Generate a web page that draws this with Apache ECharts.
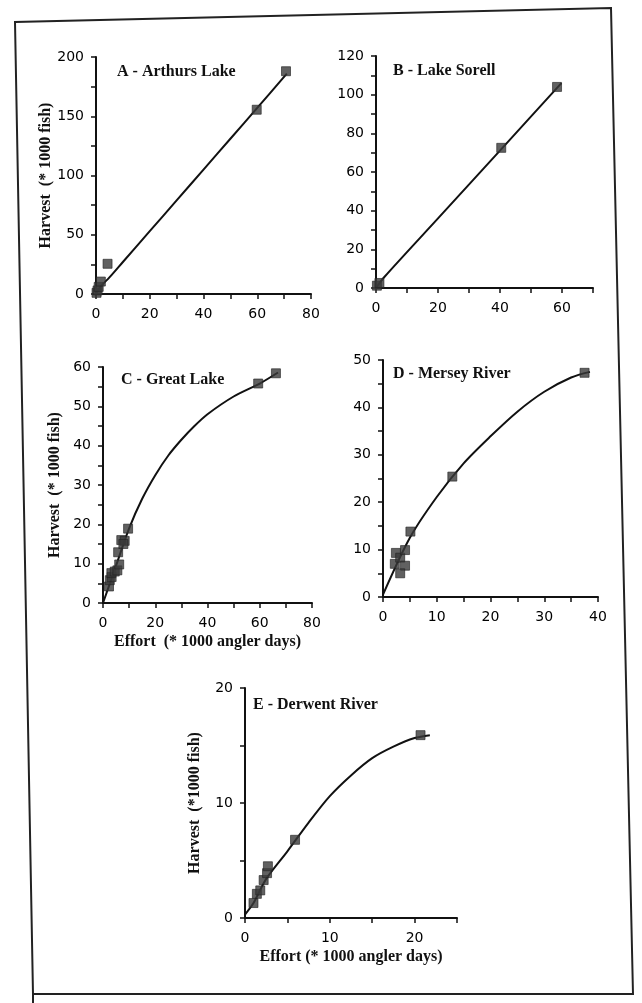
<!DOCTYPE html>
<html>
<head>
<meta charset="utf-8">
<script src="https://cdn.jsdelivr.net/npm/echarts@6/dist/echarts.min.js"></script>
<style>
html,body{margin:0;padding:0;background:#fff;}
#chart{width:642px;height:1003px;}
</style>
</head>
<body>
<div id="chart"></div>
<script>
// ---- Data (Effort, Harvest) in thousands ----
var panelTitles = ['A - Arthurs Lake', 'B - Lake Sorell', 'C - Great Lake', 'D - Mersey River', 'E - Derwent River'];

var arthursPoints = [[0.2,1],[0.6,3],[1.0,6],[1.8,10.5],[4.3,25.5],[59.8,155.5],[70.7,188]];
var arthursCurve  = [[0,0],[2,7],[5,14],[10,27],[20,53],[30,79],[40,105],[50,131],[60,157],[71,186]];

var sorellPoints = [[0.3,1.2],[1.1,2.6],[40.4,72.5],[58.4,104]];
var sorellCurve  = [[0,0],[2.7,5.7],[20,36],[40.5,72],[59.8,106]];

var greatPoints = [[2.3,4.2],[2.6,5.8],[3.3,6.6],[3.2,7.6],[4.5,8.0],[5.5,8.3],[6.2,9.8],[5.8,12.9],[7.0,16.0],[8.3,15.8],[7.8,15.0],[9.6,18.9],[59.4,55.8],[66.2,58.4]];
var greatCurve  = [[0,0],[5,9.5],[10,19],[15,26.5],[20,32.5],[25,37.5],[30,41.5],[35,45],[40,48],[50,52.5],[60,55.8],[67,58.6]];

var merseyPoints = [[2.4,9.3],[2.2,7.0],[3.2,8.3],[4.1,6.6],[3.2,5.0],[4.1,9.9],[5.1,13.8],[12.9,25.4],[37.5,47.3]];
var merseyCurve  = [[0,0.5],[5,12.5],[10,21.1],[15,28.2],[20,33.9],[25,39.1],[30,43.3],[35,46.3],[38.5,47.5]];

var derwentPoints = [[1.0,1.3],[1.4,2.1],[1.8,2.4],[2.2,3.3],[2.6,3.9],[2.7,4.5],[5.9,6.8],[20.7,15.9]];
var derwentCurve  = [[0,0.3],[1,1.3],[2.5,3.4],[5,5.8],[7.5,8.3],[10,10.6],[12.5,12.4],[15,13.9],[17.5,14.9],[20,15.65],[21.8,15.9]];

var yAxisName = 'Harvest  (* 1000 fish)';
var yAxisNameE = 'Harvest  (*1000 fish)';
var xAxisName = 'Effort  (* 1000 angler days)';
var xAxisNameE = 'Effort (* 1000 angler days)';

// axis specs: [min, max, tickInterval, labelInterval]
var xSpecs = [[0,80,10,20],[0,70,10,20],[0,80,10,20],[0,40,5,10],[0,25,5,10]];
var ySpecs = [[0,200,25,50],[0,120,10,20],[0,60,5,10],[0,50,5,10],[0,20,5,10]];

var grids = [
  {left:96,  top:57,  width:215, height:237},
  {left:376, top:56,  width:217, height:232},
  {left:103, top:367, width:209, height:236},
  {left:383, top:360, width:215, height:237},
  {left:245, top:688, width:212, height:230}
];
var titlePos = [[117,64],[393,63],[121,372],[393,366],[253,697]];

var INK = '#111';
var tickFont = {fontFamily:'DejaVu Sans', fontSize:14, color:'#000'};
var serifBold = {fontFamily:'Liberation Serif', fontWeight:'bold', fontSize:16, color:INK};

function mkAxis(spec, idx, isX) {
  var lab = spec[3];
  var ax = {
    type:'value', gridIndex:idx, min:spec[0], max:spec[1], interval:spec[2],
    splitLine:{show:false},
    axisLine:{show:true, onZero:false, lineStyle:{color:INK, width:2}},
    axisTick:{show:true, inside:false, length:5, lineStyle:{color:INK, width:1.5}},
    axisLabel:Object.assign({}, tickFont, {
      margin: isX ? 13 : 12,
      formatter:function(v){ return (Math.round(v) % lab === 0) ? String(v) : ''; }
    })
  };
  return ax;
}

var xAxes = xSpecs.map(function(s,i){ return mkAxis(s,i,true); });
var yAxes = ySpecs.map(function(s,i){ return mkAxis(s,i,false); });

// axis names
[0,2,4].forEach(function(i){
  yAxes[i].name = (i===4) ? yAxisNameE : yAxisName;
  yAxes[i].nameLocation = 'middle';
  yAxes[i].nameRotate = 90;
  yAxes[i].nameGap = (i===4) ? 42 : 40;
  yAxes[i].nameTextStyle = serifBold;
});
[2,4].forEach(function(i){
  xAxes[i].name = (i===4) ? xAxisNameE : xAxisName;
  xAxes[i].nameLocation = 'middle';
  xAxes[i].nameGap = 31;
  xAxes[i].nameTextStyle = serifBold;
});

var pointSets = [arthursPoints, sorellPoints, greatPoints, merseyPoints, derwentPoints];
var curveSets = [arthursCurve, sorellCurve, greatCurve, merseyCurve, derwentCurve];

var series = [];
for (var i=0;i<5;i++){
  series.push({
    type:'line', xAxisIndex:i, yAxisIndex:i, data:curveSets[i], smooth:0.3,
    showSymbol:false, symbol:'none', lineStyle:{color:INK, width:2}, silent:true, z:2
  });
  series.push({
    type:'scatter', xAxisIndex:i, yAxisIndex:i, data:pointSets[i],
    symbol:'rect', symbolSize:9,
    itemStyle:{color:'#3a3a3a', borderColor:'#222', borderWidth:0.8}, z:3
  });
}

var titles = panelTitles.map(function(t,i){
  return {text:t, left:titlePos[i][0], top:titlePos[i][1], textStyle:serifBold, padding:0};
});

var chart = echarts.init(document.getElementById('chart'), null, {renderer:'canvas'});
chart.setOption({
  backgroundColor:'#fff',
  animation:false,
  title:titles,
  grid:grids,
  xAxis:xAxes,
  yAxis:yAxes,
  series:series,
  graphic:[
    {type:'polyline', shape:{points:[[33,994],[15,22],[611,8],[633,994],[33,994]]},
     style:{stroke:'#222', lineWidth:2, fill:null}, silent:true},
    {type:'line', shape:{x1:33,y1:994,x2:33,y2:1003}, style:{stroke:'#222', lineWidth:2}, silent:true}
  ]
});
</script>
</body>
</html>
